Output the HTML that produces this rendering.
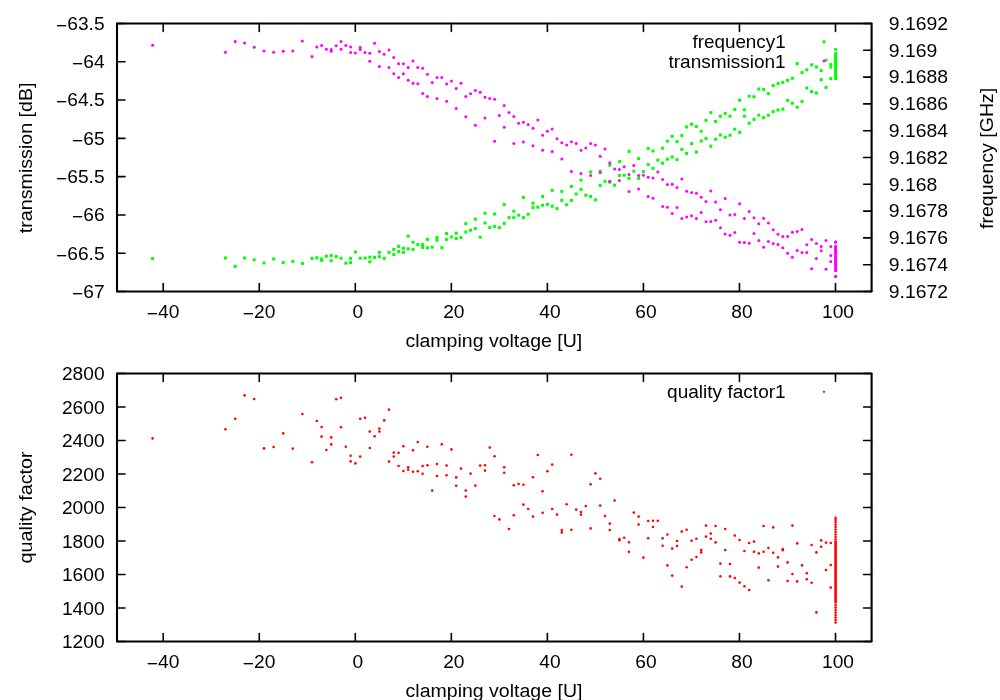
<!DOCTYPE html>
<html><head><meta charset="utf-8"><title>clamping voltage plot</title><style>
html,body{margin:0;padding:0;background:#fff;width:1000px;height:700px;overflow:hidden}
svg{display:block}
text{font-family:"Liberation Sans", Arial, Helvetica, sans-serif;font-size:19px;fill:#000}
</style></head><body>
<svg width="1000" height="700" viewBox="0 0 1000 700">
<rect width="1000" height="700" fill="#fff"/>
<line x1="163.22" y1="291.50" x2="163.22" y2="283.50" stroke="#000" stroke-width="1.6" stroke-linecap="round"/>
<line x1="163.22" y1="23.50" x2="163.22" y2="31.50" stroke="#000" stroke-width="1.6" stroke-linecap="round"/>
<line x1="259.26" y1="291.50" x2="259.26" y2="283.50" stroke="#000" stroke-width="1.6" stroke-linecap="round"/>
<line x1="259.26" y1="23.50" x2="259.26" y2="31.50" stroke="#000" stroke-width="1.6" stroke-linecap="round"/>
<line x1="355.30" y1="291.50" x2="355.30" y2="283.50" stroke="#000" stroke-width="1.6" stroke-linecap="round"/>
<line x1="355.30" y1="23.50" x2="355.30" y2="31.50" stroke="#000" stroke-width="1.6" stroke-linecap="round"/>
<line x1="451.34" y1="291.50" x2="451.34" y2="283.50" stroke="#000" stroke-width="1.6" stroke-linecap="round"/>
<line x1="451.34" y1="23.50" x2="451.34" y2="31.50" stroke="#000" stroke-width="1.6" stroke-linecap="round"/>
<line x1="547.38" y1="291.50" x2="547.38" y2="283.50" stroke="#000" stroke-width="1.6" stroke-linecap="round"/>
<line x1="547.38" y1="23.50" x2="547.38" y2="31.50" stroke="#000" stroke-width="1.6" stroke-linecap="round"/>
<line x1="643.42" y1="291.50" x2="643.42" y2="283.50" stroke="#000" stroke-width="1.6" stroke-linecap="round"/>
<line x1="643.42" y1="23.50" x2="643.42" y2="31.50" stroke="#000" stroke-width="1.6" stroke-linecap="round"/>
<line x1="739.46" y1="291.50" x2="739.46" y2="283.50" stroke="#000" stroke-width="1.6" stroke-linecap="round"/>
<line x1="739.46" y1="23.50" x2="739.46" y2="31.50" stroke="#000" stroke-width="1.6" stroke-linecap="round"/>
<line x1="835.50" y1="291.50" x2="835.50" y2="283.50" stroke="#000" stroke-width="1.6" stroke-linecap="round"/>
<line x1="835.50" y1="23.50" x2="835.50" y2="31.50" stroke="#000" stroke-width="1.6" stroke-linecap="round"/>
<line x1="163.22" y1="641.50" x2="163.22" y2="633.50" stroke="#000" stroke-width="1.6" stroke-linecap="round"/>
<line x1="163.22" y1="373.50" x2="163.22" y2="381.50" stroke="#000" stroke-width="1.6" stroke-linecap="round"/>
<line x1="259.26" y1="641.50" x2="259.26" y2="633.50" stroke="#000" stroke-width="1.6" stroke-linecap="round"/>
<line x1="259.26" y1="373.50" x2="259.26" y2="381.50" stroke="#000" stroke-width="1.6" stroke-linecap="round"/>
<line x1="355.30" y1="641.50" x2="355.30" y2="633.50" stroke="#000" stroke-width="1.6" stroke-linecap="round"/>
<line x1="355.30" y1="373.50" x2="355.30" y2="381.50" stroke="#000" stroke-width="1.6" stroke-linecap="round"/>
<line x1="451.34" y1="641.50" x2="451.34" y2="633.50" stroke="#000" stroke-width="1.6" stroke-linecap="round"/>
<line x1="451.34" y1="373.50" x2="451.34" y2="381.50" stroke="#000" stroke-width="1.6" stroke-linecap="round"/>
<line x1="547.38" y1="641.50" x2="547.38" y2="633.50" stroke="#000" stroke-width="1.6" stroke-linecap="round"/>
<line x1="547.38" y1="373.50" x2="547.38" y2="381.50" stroke="#000" stroke-width="1.6" stroke-linecap="round"/>
<line x1="643.42" y1="641.50" x2="643.42" y2="633.50" stroke="#000" stroke-width="1.6" stroke-linecap="round"/>
<line x1="643.42" y1="373.50" x2="643.42" y2="381.50" stroke="#000" stroke-width="1.6" stroke-linecap="round"/>
<line x1="739.46" y1="641.50" x2="739.46" y2="633.50" stroke="#000" stroke-width="1.6" stroke-linecap="round"/>
<line x1="739.46" y1="373.50" x2="739.46" y2="381.50" stroke="#000" stroke-width="1.6" stroke-linecap="round"/>
<line x1="835.50" y1="641.50" x2="835.50" y2="633.50" stroke="#000" stroke-width="1.6" stroke-linecap="round"/>
<line x1="835.50" y1="373.50" x2="835.50" y2="381.50" stroke="#000" stroke-width="1.6" stroke-linecap="round"/>
<line x1="117.00" y1="23.50" x2="125.00" y2="23.50" stroke="#000" stroke-width="1.6" stroke-linecap="round"/>
<text transform="translate(104.60,29.80) scale(1.01,1)" text-anchor="end"><tspan dy="2.0">−</tspan><tspan dy="-2.0">63.5</tspan></text>
<line x1="117.00" y1="61.79" x2="125.00" y2="61.79" stroke="#000" stroke-width="1.6" stroke-linecap="round"/>
<text transform="translate(104.60,68.09) scale(1.01,1)" text-anchor="end"><tspan dy="2.0">−</tspan><tspan dy="-2.0">64</tspan></text>
<line x1="117.00" y1="100.07" x2="125.00" y2="100.07" stroke="#000" stroke-width="1.6" stroke-linecap="round"/>
<text transform="translate(104.60,106.37) scale(1.01,1)" text-anchor="end"><tspan dy="2.0">−</tspan><tspan dy="-2.0">64.5</tspan></text>
<line x1="117.00" y1="138.36" x2="125.00" y2="138.36" stroke="#000" stroke-width="1.6" stroke-linecap="round"/>
<text transform="translate(104.60,144.66) scale(1.01,1)" text-anchor="end"><tspan dy="2.0">−</tspan><tspan dy="-2.0">65</tspan></text>
<line x1="117.00" y1="176.64" x2="125.00" y2="176.64" stroke="#000" stroke-width="1.6" stroke-linecap="round"/>
<text transform="translate(104.60,182.94) scale(1.01,1)" text-anchor="end"><tspan dy="2.0">−</tspan><tspan dy="-2.0">65.5</tspan></text>
<line x1="117.00" y1="214.93" x2="125.00" y2="214.93" stroke="#000" stroke-width="1.6" stroke-linecap="round"/>
<text transform="translate(104.60,221.23) scale(1.01,1)" text-anchor="end"><tspan dy="2.0">−</tspan><tspan dy="-2.0">66</tspan></text>
<line x1="117.00" y1="253.21" x2="125.00" y2="253.21" stroke="#000" stroke-width="1.6" stroke-linecap="round"/>
<text transform="translate(104.60,259.51) scale(1.01,1)" text-anchor="end"><tspan dy="2.0">−</tspan><tspan dy="-2.0">66.5</tspan></text>
<line x1="117.00" y1="291.50" x2="125.00" y2="291.50" stroke="#000" stroke-width="1.6" stroke-linecap="round"/>
<text transform="translate(104.60,297.80) scale(1.01,1)" text-anchor="end"><tspan dy="2.0">−</tspan><tspan dy="-2.0">67</tspan></text>
<line x1="871.60" y1="23.50" x2="863.60" y2="23.50" stroke="#000" stroke-width="1.6" stroke-linecap="round"/>
<text transform="translate(888.80,29.80) scale(1.02,1)">9.1692</text>
<line x1="871.60" y1="50.30" x2="863.60" y2="50.30" stroke="#000" stroke-width="1.6" stroke-linecap="round"/>
<text transform="translate(888.80,56.60) scale(1.02,1)">9.169</text>
<line x1="871.60" y1="77.10" x2="863.60" y2="77.10" stroke="#000" stroke-width="1.6" stroke-linecap="round"/>
<text transform="translate(888.80,83.40) scale(1.02,1)">9.1688</text>
<line x1="871.60" y1="103.90" x2="863.60" y2="103.90" stroke="#000" stroke-width="1.6" stroke-linecap="round"/>
<text transform="translate(888.80,110.20) scale(1.02,1)">9.1686</text>
<line x1="871.60" y1="130.70" x2="863.60" y2="130.70" stroke="#000" stroke-width="1.6" stroke-linecap="round"/>
<text transform="translate(888.80,137.00) scale(1.02,1)">9.1684</text>
<line x1="871.60" y1="157.50" x2="863.60" y2="157.50" stroke="#000" stroke-width="1.6" stroke-linecap="round"/>
<text transform="translate(888.80,163.80) scale(1.02,1)">9.1682</text>
<line x1="871.60" y1="184.30" x2="863.60" y2="184.30" stroke="#000" stroke-width="1.6" stroke-linecap="round"/>
<text transform="translate(888.80,190.60) scale(1.02,1)">9.168</text>
<line x1="871.60" y1="211.10" x2="863.60" y2="211.10" stroke="#000" stroke-width="1.6" stroke-linecap="round"/>
<text transform="translate(888.80,217.40) scale(1.02,1)">9.1678</text>
<line x1="871.60" y1="237.90" x2="863.60" y2="237.90" stroke="#000" stroke-width="1.6" stroke-linecap="round"/>
<text transform="translate(888.80,244.20) scale(1.02,1)">9.1676</text>
<line x1="871.60" y1="264.70" x2="863.60" y2="264.70" stroke="#000" stroke-width="1.6" stroke-linecap="round"/>
<text transform="translate(888.80,271.00) scale(1.02,1)">9.1674</text>
<line x1="871.60" y1="291.50" x2="863.60" y2="291.50" stroke="#000" stroke-width="1.6" stroke-linecap="round"/>
<text transform="translate(888.80,297.80) scale(1.02,1)">9.1672</text>
<line x1="117.00" y1="373.50" x2="125.00" y2="373.50" stroke="#000" stroke-width="1.6" stroke-linecap="round"/>
<line x1="871.60" y1="373.50" x2="863.60" y2="373.50" stroke="#000" stroke-width="1.6" stroke-linecap="round"/>
<text transform="translate(104.60,380.00) scale(1.01,1)" text-anchor="end">2800</text>
<line x1="117.00" y1="407.00" x2="125.00" y2="407.00" stroke="#000" stroke-width="1.6" stroke-linecap="round"/>
<line x1="871.60" y1="407.00" x2="863.60" y2="407.00" stroke="#000" stroke-width="1.6" stroke-linecap="round"/>
<text transform="translate(104.60,413.50) scale(1.01,1)" text-anchor="end">2600</text>
<line x1="117.00" y1="440.50" x2="125.00" y2="440.50" stroke="#000" stroke-width="1.6" stroke-linecap="round"/>
<line x1="871.60" y1="440.50" x2="863.60" y2="440.50" stroke="#000" stroke-width="1.6" stroke-linecap="round"/>
<text transform="translate(104.60,447.00) scale(1.01,1)" text-anchor="end">2400</text>
<line x1="117.00" y1="474.00" x2="125.00" y2="474.00" stroke="#000" stroke-width="1.6" stroke-linecap="round"/>
<line x1="871.60" y1="474.00" x2="863.60" y2="474.00" stroke="#000" stroke-width="1.6" stroke-linecap="round"/>
<text transform="translate(104.60,480.50) scale(1.01,1)" text-anchor="end">2200</text>
<line x1="117.00" y1="507.50" x2="125.00" y2="507.50" stroke="#000" stroke-width="1.6" stroke-linecap="round"/>
<line x1="871.60" y1="507.50" x2="863.60" y2="507.50" stroke="#000" stroke-width="1.6" stroke-linecap="round"/>
<text transform="translate(104.60,514.00) scale(1.01,1)" text-anchor="end">2000</text>
<line x1="117.00" y1="541.00" x2="125.00" y2="541.00" stroke="#000" stroke-width="1.6" stroke-linecap="round"/>
<line x1="871.60" y1="541.00" x2="863.60" y2="541.00" stroke="#000" stroke-width="1.6" stroke-linecap="round"/>
<text transform="translate(104.60,547.50) scale(1.01,1)" text-anchor="end">1800</text>
<line x1="117.00" y1="574.50" x2="125.00" y2="574.50" stroke="#000" stroke-width="1.6" stroke-linecap="round"/>
<line x1="871.60" y1="574.50" x2="863.60" y2="574.50" stroke="#000" stroke-width="1.6" stroke-linecap="round"/>
<text transform="translate(104.60,581.00) scale(1.01,1)" text-anchor="end">1600</text>
<line x1="117.00" y1="608.00" x2="125.00" y2="608.00" stroke="#000" stroke-width="1.6" stroke-linecap="round"/>
<line x1="871.60" y1="608.00" x2="863.60" y2="608.00" stroke="#000" stroke-width="1.6" stroke-linecap="round"/>
<text transform="translate(104.60,614.50) scale(1.01,1)" text-anchor="end">1400</text>
<line x1="117.00" y1="641.50" x2="125.00" y2="641.50" stroke="#000" stroke-width="1.6" stroke-linecap="round"/>
<line x1="871.60" y1="641.50" x2="863.60" y2="641.50" stroke="#000" stroke-width="1.6" stroke-linecap="round"/>
<text transform="translate(104.60,648.00) scale(1.01,1)" text-anchor="end">1200</text>
<text transform="translate(163.02,318.20) scale(1.01,1)" text-anchor="middle"><tspan dy="2.0">−</tspan><tspan dy="-2.0">40</tspan></text>
<text transform="translate(259.06,318.20) scale(1.01,1)" text-anchor="middle"><tspan dy="2.0">−</tspan><tspan dy="-2.0">20</tspan></text>
<text transform="translate(357.80,318.20) scale(1.01,1)" text-anchor="middle">0</text>
<text transform="translate(453.84,318.20) scale(1.01,1)" text-anchor="middle">20</text>
<text transform="translate(549.88,318.20) scale(1.01,1)" text-anchor="middle">40</text>
<text transform="translate(645.92,318.20) scale(1.01,1)" text-anchor="middle">60</text>
<text transform="translate(741.96,318.20) scale(1.01,1)" text-anchor="middle">80</text>
<text transform="translate(838.00,318.20) scale(1.01,1)" text-anchor="middle">100</text>
<text transform="translate(163.02,668.20) scale(1.01,1)" text-anchor="middle"><tspan dy="2.0">−</tspan><tspan dy="-2.0">40</tspan></text>
<text transform="translate(259.06,668.20) scale(1.01,1)" text-anchor="middle"><tspan dy="2.0">−</tspan><tspan dy="-2.0">20</tspan></text>
<text transform="translate(357.80,668.20) scale(1.01,1)" text-anchor="middle">0</text>
<text transform="translate(453.84,668.20) scale(1.01,1)" text-anchor="middle">20</text>
<text transform="translate(549.88,668.20) scale(1.01,1)" text-anchor="middle">40</text>
<text transform="translate(645.92,668.20) scale(1.01,1)" text-anchor="middle">60</text>
<text transform="translate(741.96,668.20) scale(1.01,1)" text-anchor="middle">80</text>
<text transform="translate(838.00,668.20) scale(1.01,1)" text-anchor="middle">100</text>
<rect x="117" y="23.5" width="754.6" height="268.0" fill="none" stroke="#000" stroke-width="2.1" stroke-linejoin="round"/>
<rect x="117" y="373.5" width="754.6" height="268.0" fill="none" stroke="#000" stroke-width="2.1" stroke-linejoin="round"/>
<text transform="translate(493.80,346.70) scale(1.028,1)" text-anchor="middle">clamping voltage [U]</text>
<text transform="translate(494.00,696.50) scale(1.028,1)" text-anchor="middle">clamping voltage [U]</text>
<text transform="translate(31.70,157.80) rotate(-90) scale(1.035,1)" text-anchor="middle">transmission [dB]</text>
<text transform="translate(31.70,507.40) rotate(-90) scale(1.04,1)" text-anchor="middle">quality factor</text>
<text transform="translate(993.00,158.40) rotate(-90) scale(1.03,1)" text-anchor="middle">frequency [GHz]</text>
<text transform="translate(785.70,47.60) scale(0.993,1)" text-anchor="end">frequency1</text>
<text transform="translate(785.70,67.60)" text-anchor="end">transmission1</text>
<text transform="translate(785.70,397.90) scale(1.004,1)" text-anchor="end">quality factor1</text>
<rect x="618.1" y="160.1" width="3" height="3" fill="#00ff00"/>
<rect x="627.5" y="149.9" width="3" height="3" fill="#00ff00"/>
<rect x="637.1" y="157.1" width="3" height="3" fill="#00ff00"/>
<rect x="646.7" y="147.1" width="3" height="3" fill="#00ff00"/>
<rect x="651.5" y="149.5" width="3" height="3" fill="#00ff00"/>
<rect x="656.3" y="158.7" width="3" height="3" fill="#00ff00"/>
<rect x="661.1" y="146.7" width="3" height="3" fill="#00ff00"/>
<rect x="665.9" y="139.7" width="3" height="3" fill="#00ff00"/>
<rect x="665.9" y="157.7" width="3" height="3" fill="#00ff00"/>
<rect x="670.7" y="134.9" width="3" height="3" fill="#00ff00"/>
<rect x="670.7" y="155.5" width="3" height="3" fill="#00ff00"/>
<rect x="675.5" y="140.1" width="3" height="3" fill="#00ff00"/>
<rect x="675.5" y="158.1" width="3" height="3" fill="#00ff00"/>
<rect x="680.3" y="134.1" width="3" height="3" fill="#00ff00"/>
<rect x="680.3" y="147.9" width="3" height="3" fill="#00ff00"/>
<rect x="685.1" y="125.5" width="3" height="3" fill="#00ff00"/>
<rect x="685.1" y="151.9" width="3" height="3" fill="#00ff00"/>
<rect x="690.1" y="122.7" width="3" height="3" fill="#00ff00"/>
<rect x="690.1" y="142.1" width="3" height="3" fill="#00ff00"/>
<rect x="694.9" y="125.1" width="3" height="3" fill="#00ff00"/>
<rect x="694.9" y="150.5" width="3" height="3" fill="#00ff00"/>
<rect x="699.7" y="129.7" width="3" height="3" fill="#00ff00"/>
<rect x="699.7" y="139.5" width="3" height="3" fill="#00ff00"/>
<rect x="704.5" y="118.9" width="3" height="3" fill="#00ff00"/>
<rect x="704.5" y="136.9" width="3" height="3" fill="#00ff00"/>
<rect x="709.3" y="111.1" width="3" height="3" fill="#00ff00"/>
<rect x="709.3" y="144.7" width="3" height="3" fill="#00ff00"/>
<rect x="714.1" y="119.9" width="3" height="3" fill="#00ff00"/>
<rect x="714.1" y="137.7" width="3" height="3" fill="#00ff00"/>
<rect x="718.9" y="114.7" width="3" height="3" fill="#00ff00"/>
<rect x="718.9" y="133.5" width="3" height="3" fill="#00ff00"/>
<rect x="723.7" y="111.9" width="3" height="3" fill="#00ff00"/>
<rect x="723.7" y="135.7" width="3" height="3" fill="#00ff00"/>
<rect x="728.5" y="114.7" width="3" height="3" fill="#00ff00"/>
<rect x="728.5" y="133.7" width="3" height="3" fill="#00ff00"/>
<rect x="733.3" y="107.9" width="3" height="3" fill="#00ff00"/>
<rect x="733.3" y="127.7" width="3" height="3" fill="#00ff00"/>
<rect x="738.1" y="98.7" width="3" height="3" fill="#00ff00"/>
<rect x="738.1" y="130.9" width="3" height="3" fill="#00ff00"/>
<rect x="742.9" y="108.3" width="3" height="3" fill="#00ff00"/>
<rect x="742.9" y="114.7" width="3" height="3" fill="#00ff00"/>
<rect x="747.7" y="94.7" width="3" height="3" fill="#00ff00"/>
<rect x="747.7" y="121.7" width="3" height="3" fill="#00ff00"/>
<rect x="752.5" y="95.3" width="3" height="3" fill="#00ff00"/>
<rect x="752.5" y="117.9" width="3" height="3" fill="#00ff00"/>
<rect x="757.3" y="87.5" width="3" height="3" fill="#00ff00"/>
<rect x="757.3" y="113.7" width="3" height="3" fill="#00ff00"/>
<rect x="762.1" y="87.9" width="3" height="3" fill="#00ff00"/>
<rect x="762.1" y="116.1" width="3" height="3" fill="#00ff00"/>
<rect x="766.9" y="92.1" width="3" height="3" fill="#00ff00"/>
<rect x="766.9" y="113.7" width="3" height="3" fill="#00ff00"/>
<rect x="771.7" y="84.1" width="3" height="3" fill="#00ff00"/>
<rect x="771.7" y="110.1" width="3" height="3" fill="#00ff00"/>
<rect x="776.5" y="81.9" width="3" height="3" fill="#00ff00"/>
<rect x="776.5" y="108.5" width="3" height="3" fill="#00ff00"/>
<rect x="781.3" y="80.9" width="3" height="3" fill="#00ff00"/>
<rect x="781.3" y="107.7" width="3" height="3" fill="#00ff00"/>
<rect x="786.1" y="78.9" width="3" height="3" fill="#00ff00"/>
<rect x="786.1" y="98.9" width="3" height="3" fill="#00ff00"/>
<rect x="790.9" y="76.7" width="3" height="3" fill="#00ff00"/>
<rect x="790.9" y="101.7" width="3" height="3" fill="#00ff00"/>
<rect x="795.7" y="62.1" width="3" height="3" fill="#00ff00"/>
<rect x="795.7" y="105.7" width="3" height="3" fill="#00ff00"/>
<rect x="800.5" y="71.1" width="3" height="3" fill="#00ff00"/>
<rect x="800.5" y="99.9" width="3" height="3" fill="#00ff00"/>
<rect x="805.3" y="68.3" width="3" height="3" fill="#00ff00"/>
<rect x="805.3" y="86.5" width="3" height="3" fill="#00ff00"/>
<rect x="810.1" y="63.3" width="3" height="3" fill="#00ff00"/>
<rect x="810.1" y="90.1" width="3" height="3" fill="#00ff00"/>
<rect x="814.9" y="65.5" width="3" height="3" fill="#00ff00"/>
<rect x="814.9" y="91.5" width="3" height="3" fill="#00ff00"/>
<rect x="819.7" y="69.1" width="3" height="3" fill="#00ff00"/>
<rect x="819.7" y="78.1" width="3" height="3" fill="#00ff00"/>
<rect x="824.5" y="58.7" width="3" height="3" fill="#00ff00"/>
<rect x="824.5" y="85.9" width="3" height="3" fill="#00ff00"/>
<rect x="829.3" y="63.1" width="3" height="3" fill="#00ff00"/>
<rect x="829.3" y="65.5" width="3" height="3" fill="#00ff00"/>
<rect x="829.3" y="77.1" width="3" height="3" fill="#00ff00"/>
<rect x="151.1" y="257.1" width="3" height="3" fill="#00ff00"/>
<rect x="223.9" y="256.5" width="3" height="3" fill="#00ff00"/>
<rect x="233.7" y="264.9" width="3" height="3" fill="#00ff00"/>
<rect x="243.1" y="256.5" width="3" height="3" fill="#00ff00"/>
<rect x="252.7" y="258.3" width="3" height="3" fill="#00ff00"/>
<rect x="262.5" y="261.5" width="3" height="3" fill="#00ff00"/>
<rect x="272.1" y="257.5" width="3" height="3" fill="#00ff00"/>
<rect x="281.7" y="261.1" width="3" height="3" fill="#00ff00"/>
<rect x="291.3" y="259.9" width="3" height="3" fill="#00ff00"/>
<rect x="300.9" y="261.9" width="3" height="3" fill="#00ff00"/>
<rect x="310.5" y="256.9" width="3" height="3" fill="#00ff00"/>
<rect x="315.3" y="256.3" width="3" height="3" fill="#00ff00"/>
<rect x="320.1" y="257.5" width="3" height="3" fill="#00ff00"/>
<rect x="320.1" y="258.9" width="3" height="3" fill="#00ff00"/>
<rect x="324.9" y="254.7" width="3" height="3" fill="#00ff00"/>
<rect x="329.7" y="253.9" width="3" height="3" fill="#00ff00"/>
<rect x="329.7" y="259.3" width="3" height="3" fill="#00ff00"/>
<rect x="334.7" y="255.1" width="3" height="3" fill="#00ff00"/>
<rect x="339.5" y="256.7" width="3" height="3" fill="#00ff00"/>
<rect x="344.3" y="261.7" width="3" height="3" fill="#00ff00"/>
<rect x="349.1" y="256.9" width="3" height="3" fill="#00ff00"/>
<rect x="349.1" y="261.1" width="3" height="3" fill="#00ff00"/>
<rect x="353.9" y="250.5" width="3" height="3" fill="#00ff00"/>
<rect x="358.7" y="256.7" width="3" height="3" fill="#00ff00"/>
<rect x="363.5" y="256.5" width="3" height="3" fill="#00ff00"/>
<rect x="368.3" y="255.7" width="3" height="3" fill="#00ff00"/>
<rect x="368.3" y="260.3" width="3" height="3" fill="#00ff00"/>
<rect x="373.1" y="255.9" width="3" height="3" fill="#00ff00"/>
<rect x="377.9" y="250.9" width="3" height="3" fill="#00ff00"/>
<rect x="377.9" y="255.1" width="3" height="3" fill="#00ff00"/>
<rect x="382.7" y="256.9" width="3" height="3" fill="#00ff00"/>
<rect x="387.5" y="250.9" width="3" height="3" fill="#00ff00"/>
<rect x="392.3" y="247.9" width="3" height="3" fill="#00ff00"/>
<rect x="392.3" y="253.1" width="3" height="3" fill="#00ff00"/>
<rect x="397.1" y="244.9" width="3" height="3" fill="#00ff00"/>
<rect x="397.1" y="250.1" width="3" height="3" fill="#00ff00"/>
<rect x="401.9" y="246.7" width="3" height="3" fill="#00ff00"/>
<rect x="401.9" y="250.9" width="3" height="3" fill="#00ff00"/>
<rect x="406.7" y="234.7" width="3" height="3" fill="#00ff00"/>
<rect x="406.7" y="247.3" width="3" height="3" fill="#00ff00"/>
<rect x="411.5" y="240.7" width="3" height="3" fill="#00ff00"/>
<rect x="411.5" y="247.9" width="3" height="3" fill="#00ff00"/>
<rect x="416.3" y="243.1" width="3" height="3" fill="#00ff00"/>
<rect x="421.1" y="243.1" width="3" height="3" fill="#00ff00"/>
<rect x="421.1" y="245.9" width="3" height="3" fill="#00ff00"/>
<rect x="425.9" y="237.9" width="3" height="3" fill="#00ff00"/>
<rect x="425.9" y="246.3" width="3" height="3" fill="#00ff00"/>
<rect x="430.7" y="245.7" width="3" height="3" fill="#00ff00"/>
<rect x="435.5" y="235.9" width="3" height="3" fill="#00ff00"/>
<rect x="435.5" y="238.7" width="3" height="3" fill="#00ff00"/>
<rect x="440.3" y="246.3" width="3" height="3" fill="#00ff00"/>
<rect x="445.1" y="232.1" width="3" height="3" fill="#00ff00"/>
<rect x="445.1" y="237.9" width="3" height="3" fill="#00ff00"/>
<rect x="449.9" y="235.5" width="3" height="3" fill="#00ff00"/>
<rect x="454.7" y="231.7" width="3" height="3" fill="#00ff00"/>
<rect x="454.7" y="237.1" width="3" height="3" fill="#00ff00"/>
<rect x="459.5" y="236.1" width="3" height="3" fill="#00ff00"/>
<rect x="464.3" y="222.1" width="3" height="3" fill="#00ff00"/>
<rect x="464.3" y="230.5" width="3" height="3" fill="#00ff00"/>
<rect x="469.1" y="228.7" width="3" height="3" fill="#00ff00"/>
<rect x="473.9" y="217.7" width="3" height="3" fill="#00ff00"/>
<rect x="473.9" y="227.1" width="3" height="3" fill="#00ff00"/>
<rect x="478.7" y="235.7" width="3" height="3" fill="#00ff00"/>
<rect x="483.5" y="211.7" width="3" height="3" fill="#00ff00"/>
<rect x="483.5" y="221.5" width="3" height="3" fill="#00ff00"/>
<rect x="488.3" y="226.1" width="3" height="3" fill="#00ff00"/>
<rect x="493.1" y="212.5" width="3" height="3" fill="#00ff00"/>
<rect x="493.1" y="224.9" width="3" height="3" fill="#00ff00"/>
<rect x="497.9" y="226.1" width="3" height="3" fill="#00ff00"/>
<rect x="502.7" y="203.1" width="3" height="3" fill="#00ff00"/>
<rect x="502.7" y="221.9" width="3" height="3" fill="#00ff00"/>
<rect x="507.5" y="216.1" width="3" height="3" fill="#00ff00"/>
<rect x="512.3" y="209.7" width="3" height="3" fill="#00ff00"/>
<rect x="512.3" y="216.1" width="3" height="3" fill="#00ff00"/>
<rect x="517.1" y="213.7" width="3" height="3" fill="#00ff00"/>
<rect x="521.9" y="195.9" width="3" height="3" fill="#00ff00"/>
<rect x="521.9" y="216.1" width="3" height="3" fill="#00ff00"/>
<rect x="526.7" y="212.7" width="3" height="3" fill="#00ff00"/>
<rect x="531.5" y="201.7" width="3" height="3" fill="#00ff00"/>
<rect x="531.5" y="206.1" width="3" height="3" fill="#00ff00"/>
<rect x="536.3" y="205.7" width="3" height="3" fill="#00ff00"/>
<rect x="541.1" y="195.1" width="3" height="3" fill="#00ff00"/>
<rect x="541.1" y="203.7" width="3" height="3" fill="#00ff00"/>
<rect x="545.9" y="202.9" width="3" height="3" fill="#00ff00"/>
<rect x="550.7" y="188.9" width="3" height="3" fill="#00ff00"/>
<rect x="550.7" y="204.7" width="3" height="3" fill="#00ff00"/>
<rect x="555.5" y="207.1" width="3" height="3" fill="#00ff00"/>
<rect x="560.3" y="189.9" width="3" height="3" fill="#00ff00"/>
<rect x="560.3" y="198.9" width="3" height="3" fill="#00ff00"/>
<rect x="565.1" y="203.3" width="3" height="3" fill="#00ff00"/>
<rect x="569.9" y="184.9" width="3" height="3" fill="#00ff00"/>
<rect x="569.9" y="198.9" width="3" height="3" fill="#00ff00"/>
<rect x="574.7" y="192.5" width="3" height="3" fill="#00ff00"/>
<rect x="579.5" y="178.7" width="3" height="3" fill="#00ff00"/>
<rect x="579.5" y="187.9" width="3" height="3" fill="#00ff00"/>
<rect x="584.3" y="193.7" width="3" height="3" fill="#00ff00"/>
<rect x="589.1" y="170.5" width="3" height="3" fill="#00ff00"/>
<rect x="589.1" y="194.9" width="3" height="3" fill="#00ff00"/>
<rect x="593.9" y="198.3" width="3" height="3" fill="#00ff00"/>
<rect x="598.7" y="169.7" width="3" height="3" fill="#00ff00"/>
<rect x="598.7" y="183.9" width="3" height="3" fill="#00ff00"/>
<rect x="603.5" y="179.9" width="3" height="3" fill="#00ff00"/>
<rect x="608.3" y="163.7" width="3" height="3" fill="#00ff00"/>
<rect x="608.3" y="180.7" width="3" height="3" fill="#00ff00"/>
<rect x="613.1" y="183.7" width="3" height="3" fill="#00ff00"/>
<rect x="617.9" y="173.9" width="3" height="3" fill="#00ff00"/>
<rect x="622.7" y="173.7" width="3" height="3" fill="#00ff00"/>
<rect x="627.5" y="176.9" width="3" height="3" fill="#00ff00"/>
<rect x="632.3" y="169.7" width="3" height="3" fill="#00ff00"/>
<rect x="637.1" y="176.9" width="3" height="3" fill="#00ff00"/>
<rect x="641.9" y="170.1" width="3" height="3" fill="#00ff00"/>
<rect x="646.7" y="163.1" width="3" height="3" fill="#00ff00"/>
<rect x="651.5" y="166.9" width="3" height="3" fill="#00ff00"/>
<rect x="661.1" y="161.7" width="3" height="3" fill="#00ff00"/>
<circle cx="152.6" cy="45.2" r="1.5" fill="#ff00ff"/>
<circle cx="225.4" cy="52.2" r="1.5" fill="#ff00ff"/>
<circle cx="235.2" cy="41.6" r="1.5" fill="#ff00ff"/>
<circle cx="244.6" cy="43.0" r="1.5" fill="#ff00ff"/>
<circle cx="254.2" cy="47.2" r="1.5" fill="#ff00ff"/>
<circle cx="264.0" cy="51.0" r="1.5" fill="#ff00ff"/>
<circle cx="273.6" cy="52.2" r="1.5" fill="#ff00ff"/>
<circle cx="283.2" cy="51.2" r="1.5" fill="#ff00ff"/>
<circle cx="292.8" cy="51.0" r="1.5" fill="#ff00ff"/>
<circle cx="302.4" cy="41.0" r="1.5" fill="#ff00ff"/>
<circle cx="312.0" cy="56.4" r="1.5" fill="#ff00ff"/>
<circle cx="316.8" cy="47.0" r="1.5" fill="#ff00ff"/>
<circle cx="321.6" cy="45.4" r="1.5" fill="#ff00ff"/>
<circle cx="326.4" cy="49.2" r="1.5" fill="#ff00ff"/>
<circle cx="331.2" cy="49.4" r="1.5" fill="#ff00ff"/>
<circle cx="331.2" cy="51.2" r="1.5" fill="#ff00ff"/>
<circle cx="336.2" cy="45.8" r="1.5" fill="#ff00ff"/>
<circle cx="341.0" cy="41.4" r="1.5" fill="#ff00ff"/>
<circle cx="341.0" cy="49.2" r="1.5" fill="#ff00ff"/>
<circle cx="345.8" cy="45.6" r="1.5" fill="#ff00ff"/>
<circle cx="350.6" cy="47.0" r="1.5" fill="#ff00ff"/>
<circle cx="350.6" cy="52.6" r="1.5" fill="#ff00ff"/>
<circle cx="355.4" cy="53.0" r="1.5" fill="#ff00ff"/>
<circle cx="360.2" cy="47.4" r="1.5" fill="#ff00ff"/>
<circle cx="360.2" cy="49.4" r="1.5" fill="#ff00ff"/>
<circle cx="365.0" cy="52.4" r="1.5" fill="#ff00ff"/>
<circle cx="369.8" cy="53.2" r="1.5" fill="#ff00ff"/>
<circle cx="369.8" cy="61.2" r="1.5" fill="#ff00ff"/>
<circle cx="374.6" cy="43.2" r="1.5" fill="#ff00ff"/>
<circle cx="379.4" cy="51.4" r="1.5" fill="#ff00ff"/>
<circle cx="379.4" cy="66.6" r="1.5" fill="#ff00ff"/>
<circle cx="384.2" cy="54.2" r="1.5" fill="#ff00ff"/>
<circle cx="389.0" cy="50.0" r="1.5" fill="#ff00ff"/>
<circle cx="389.0" cy="67.4" r="1.5" fill="#ff00ff"/>
<circle cx="393.8" cy="57.4" r="1.5" fill="#ff00ff"/>
<circle cx="393.8" cy="73.8" r="1.5" fill="#ff00ff"/>
<circle cx="398.6" cy="63.8" r="1.5" fill="#ff00ff"/>
<circle cx="398.6" cy="77.4" r="1.5" fill="#ff00ff"/>
<circle cx="403.4" cy="63.8" r="1.5" fill="#ff00ff"/>
<circle cx="403.4" cy="73.8" r="1.5" fill="#ff00ff"/>
<circle cx="408.2" cy="67.4" r="1.5" fill="#ff00ff"/>
<circle cx="408.2" cy="80.2" r="1.5" fill="#ff00ff"/>
<circle cx="413.0" cy="61.0" r="1.5" fill="#ff00ff"/>
<circle cx="413.0" cy="83.2" r="1.5" fill="#ff00ff"/>
<circle cx="417.8" cy="67.4" r="1.5" fill="#ff00ff"/>
<circle cx="417.8" cy="83.8" r="1.5" fill="#ff00ff"/>
<circle cx="422.6" cy="68.2" r="1.5" fill="#ff00ff"/>
<circle cx="422.6" cy="93.4" r="1.5" fill="#ff00ff"/>
<circle cx="427.4" cy="74.2" r="1.5" fill="#ff00ff"/>
<circle cx="427.4" cy="96.6" r="1.5" fill="#ff00ff"/>
<circle cx="432.2" cy="82.4" r="1.5" fill="#ff00ff"/>
<circle cx="437.0" cy="77.4" r="1.5" fill="#ff00ff"/>
<circle cx="437.0" cy="98.6" r="1.5" fill="#ff00ff"/>
<circle cx="441.8" cy="77.6" r="1.5" fill="#ff00ff"/>
<circle cx="446.6" cy="84.0" r="1.5" fill="#ff00ff"/>
<circle cx="446.6" cy="101.2" r="1.5" fill="#ff00ff"/>
<circle cx="451.4" cy="81.0" r="1.5" fill="#ff00ff"/>
<circle cx="456.2" cy="88.4" r="1.5" fill="#ff00ff"/>
<circle cx="456.2" cy="108.4" r="1.5" fill="#ff00ff"/>
<circle cx="461.0" cy="83.2" r="1.5" fill="#ff00ff"/>
<circle cx="465.8" cy="96.6" r="1.5" fill="#ff00ff"/>
<circle cx="465.8" cy="116.8" r="1.5" fill="#ff00ff"/>
<circle cx="470.6" cy="93.8" r="1.5" fill="#ff00ff"/>
<circle cx="475.4" cy="90.6" r="1.5" fill="#ff00ff"/>
<circle cx="475.4" cy="125.2" r="1.5" fill="#ff00ff"/>
<circle cx="480.2" cy="92.2" r="1.5" fill="#ff00ff"/>
<circle cx="485.0" cy="97.2" r="1.5" fill="#ff00ff"/>
<circle cx="485.0" cy="118.0" r="1.5" fill="#ff00ff"/>
<circle cx="489.8" cy="98.4" r="1.5" fill="#ff00ff"/>
<circle cx="494.6" cy="99.2" r="1.5" fill="#ff00ff"/>
<circle cx="494.6" cy="141.2" r="1.5" fill="#ff00ff"/>
<circle cx="499.4" cy="115.6" r="1.5" fill="#ff00ff"/>
<circle cx="504.2" cy="105.6" r="1.5" fill="#ff00ff"/>
<circle cx="504.2" cy="127.2" r="1.5" fill="#ff00ff"/>
<circle cx="509.0" cy="112.6" r="1.5" fill="#ff00ff"/>
<circle cx="513.8" cy="116.4" r="1.5" fill="#ff00ff"/>
<circle cx="513.8" cy="143.6" r="1.5" fill="#ff00ff"/>
<circle cx="518.6" cy="123.2" r="1.5" fill="#ff00ff"/>
<circle cx="523.4" cy="122.2" r="1.5" fill="#ff00ff"/>
<circle cx="523.4" cy="142.0" r="1.5" fill="#ff00ff"/>
<circle cx="528.2" cy="124.6" r="1.5" fill="#ff00ff"/>
<circle cx="533.0" cy="128.2" r="1.5" fill="#ff00ff"/>
<circle cx="533.0" cy="145.8" r="1.5" fill="#ff00ff"/>
<circle cx="537.8" cy="120.0" r="1.5" fill="#ff00ff"/>
<circle cx="542.6" cy="135.2" r="1.5" fill="#ff00ff"/>
<circle cx="542.6" cy="150.2" r="1.5" fill="#ff00ff"/>
<circle cx="547.4" cy="131.2" r="1.5" fill="#ff00ff"/>
<circle cx="552.2" cy="129.0" r="1.5" fill="#ff00ff"/>
<circle cx="552.2" cy="151.6" r="1.5" fill="#ff00ff"/>
<circle cx="557.0" cy="138.8" r="1.5" fill="#ff00ff"/>
<circle cx="561.8" cy="142.8" r="1.5" fill="#ff00ff"/>
<circle cx="561.8" cy="159.0" r="1.5" fill="#ff00ff"/>
<circle cx="566.6" cy="145.0" r="1.5" fill="#ff00ff"/>
<circle cx="571.4" cy="141.8" r="1.5" fill="#ff00ff"/>
<circle cx="576.2" cy="143.6" r="1.5" fill="#ff00ff"/>
<circle cx="581.0" cy="150.2" r="1.5" fill="#ff00ff"/>
<circle cx="585.8" cy="148.0" r="1.5" fill="#ff00ff"/>
<circle cx="590.6" cy="143.4" r="1.5" fill="#ff00ff"/>
<circle cx="595.4" cy="145.0" r="1.5" fill="#ff00ff"/>
<circle cx="600.2" cy="156.2" r="1.5" fill="#ff00ff"/>
<circle cx="605.0" cy="149.0" r="1.5" fill="#ff00ff"/>
<circle cx="609.8" cy="162.8" r="1.5" fill="#ff00ff"/>
<circle cx="571.4" cy="171.6" r="1.5" fill="#ff00ff"/>
<circle cx="581.0" cy="173.4" r="1.5" fill="#ff00ff"/>
<circle cx="590.6" cy="175.6" r="1.5" fill="#ff00ff"/>
<circle cx="600.2" cy="172.6" r="1.5" fill="#ff00ff"/>
<circle cx="609.8" cy="181.2" r="1.5" fill="#ff00ff"/>
<circle cx="614.6" cy="169.0" r="1.5" fill="#ff00ff"/>
<circle cx="619.4" cy="169.4" r="1.5" fill="#ff00ff"/>
<circle cx="619.4" cy="180.4" r="1.5" fill="#ff00ff"/>
<circle cx="624.2" cy="166.8" r="1.5" fill="#ff00ff"/>
<circle cx="629.0" cy="174.4" r="1.5" fill="#ff00ff"/>
<circle cx="629.0" cy="191.4" r="1.5" fill="#ff00ff"/>
<circle cx="633.8" cy="165.6" r="1.5" fill="#ff00ff"/>
<circle cx="638.6" cy="175.4" r="1.5" fill="#ff00ff"/>
<circle cx="638.6" cy="189.0" r="1.5" fill="#ff00ff"/>
<circle cx="643.4" cy="175.2" r="1.5" fill="#ff00ff"/>
<circle cx="648.2" cy="177.2" r="1.5" fill="#ff00ff"/>
<circle cx="648.2" cy="196.4" r="1.5" fill="#ff00ff"/>
<circle cx="653.0" cy="178.0" r="1.5" fill="#ff00ff"/>
<circle cx="653.0" cy="198.2" r="1.5" fill="#ff00ff"/>
<circle cx="657.8" cy="172.0" r="1.5" fill="#ff00ff"/>
<circle cx="662.6" cy="179.6" r="1.5" fill="#ff00ff"/>
<circle cx="662.6" cy="206.4" r="1.5" fill="#ff00ff"/>
<circle cx="667.4" cy="184.6" r="1.5" fill="#ff00ff"/>
<circle cx="667.4" cy="207.2" r="1.5" fill="#ff00ff"/>
<circle cx="672.2" cy="184.2" r="1.5" fill="#ff00ff"/>
<circle cx="672.2" cy="213.6" r="1.5" fill="#ff00ff"/>
<circle cx="677.0" cy="187.6" r="1.5" fill="#ff00ff"/>
<circle cx="677.0" cy="207.4" r="1.5" fill="#ff00ff"/>
<circle cx="681.8" cy="179.0" r="1.5" fill="#ff00ff"/>
<circle cx="681.8" cy="218.6" r="1.5" fill="#ff00ff"/>
<circle cx="686.6" cy="191.2" r="1.5" fill="#ff00ff"/>
<circle cx="686.6" cy="217.0" r="1.5" fill="#ff00ff"/>
<circle cx="691.6" cy="192.4" r="1.5" fill="#ff00ff"/>
<circle cx="691.6" cy="215.8" r="1.5" fill="#ff00ff"/>
<circle cx="696.4" cy="193.2" r="1.5" fill="#ff00ff"/>
<circle cx="696.4" cy="218.6" r="1.5" fill="#ff00ff"/>
<circle cx="701.2" cy="197.2" r="1.5" fill="#ff00ff"/>
<circle cx="701.2" cy="212.4" r="1.5" fill="#ff00ff"/>
<circle cx="706.0" cy="201.6" r="1.5" fill="#ff00ff"/>
<circle cx="706.0" cy="221.8" r="1.5" fill="#ff00ff"/>
<circle cx="710.8" cy="191.0" r="1.5" fill="#ff00ff"/>
<circle cx="710.8" cy="221.6" r="1.5" fill="#ff00ff"/>
<circle cx="715.6" cy="202.0" r="1.5" fill="#ff00ff"/>
<circle cx="715.6" cy="220.2" r="1.5" fill="#ff00ff"/>
<circle cx="720.4" cy="209.8" r="1.5" fill="#ff00ff"/>
<circle cx="720.4" cy="227.8" r="1.5" fill="#ff00ff"/>
<circle cx="725.2" cy="198.4" r="1.5" fill="#ff00ff"/>
<circle cx="725.2" cy="234.0" r="1.5" fill="#ff00ff"/>
<circle cx="730.0" cy="215.0" r="1.5" fill="#ff00ff"/>
<circle cx="730.0" cy="235.2" r="1.5" fill="#ff00ff"/>
<circle cx="734.8" cy="214.4" r="1.5" fill="#ff00ff"/>
<circle cx="734.8" cy="232.6" r="1.5" fill="#ff00ff"/>
<circle cx="739.6" cy="203.8" r="1.5" fill="#ff00ff"/>
<circle cx="739.6" cy="242.2" r="1.5" fill="#ff00ff"/>
<circle cx="744.4" cy="218.4" r="1.5" fill="#ff00ff"/>
<circle cx="744.4" cy="242.4" r="1.5" fill="#ff00ff"/>
<circle cx="749.2" cy="211.4" r="1.5" fill="#ff00ff"/>
<circle cx="749.2" cy="243.2" r="1.5" fill="#ff00ff"/>
<circle cx="754.0" cy="217.8" r="1.5" fill="#ff00ff"/>
<circle cx="754.0" cy="233.6" r="1.5" fill="#ff00ff"/>
<circle cx="758.8" cy="223.8" r="1.5" fill="#ff00ff"/>
<circle cx="758.8" cy="240.6" r="1.5" fill="#ff00ff"/>
<circle cx="763.6" cy="218.2" r="1.5" fill="#ff00ff"/>
<circle cx="763.6" cy="247.2" r="1.5" fill="#ff00ff"/>
<circle cx="768.4" cy="223.0" r="1.5" fill="#ff00ff"/>
<circle cx="768.4" cy="241.4" r="1.5" fill="#ff00ff"/>
<circle cx="773.2" cy="229.8" r="1.5" fill="#ff00ff"/>
<circle cx="773.2" cy="243.4" r="1.5" fill="#ff00ff"/>
<circle cx="778.0" cy="234.2" r="1.5" fill="#ff00ff"/>
<circle cx="778.0" cy="244.6" r="1.5" fill="#ff00ff"/>
<circle cx="782.8" cy="236.6" r="1.5" fill="#ff00ff"/>
<circle cx="782.8" cy="247.8" r="1.5" fill="#ff00ff"/>
<circle cx="787.6" cy="236.4" r="1.5" fill="#ff00ff"/>
<circle cx="787.6" cy="253.2" r="1.5" fill="#ff00ff"/>
<circle cx="792.4" cy="232.2" r="1.5" fill="#ff00ff"/>
<circle cx="792.4" cy="257.2" r="1.5" fill="#ff00ff"/>
<circle cx="797.2" cy="231.6" r="1.5" fill="#ff00ff"/>
<circle cx="797.2" cy="250.6" r="1.5" fill="#ff00ff"/>
<circle cx="802.0" cy="229.4" r="1.5" fill="#ff00ff"/>
<circle cx="802.0" cy="252.4" r="1.5" fill="#ff00ff"/>
<circle cx="806.8" cy="244.8" r="1.5" fill="#ff00ff"/>
<circle cx="806.8" cy="252.4" r="1.5" fill="#ff00ff"/>
<circle cx="811.6" cy="239.4" r="1.5" fill="#ff00ff"/>
<circle cx="811.6" cy="268.8" r="1.5" fill="#ff00ff"/>
<circle cx="816.4" cy="243.4" r="1.5" fill="#ff00ff"/>
<circle cx="816.4" cy="258.6" r="1.5" fill="#ff00ff"/>
<circle cx="821.2" cy="246.6" r="1.5" fill="#ff00ff"/>
<circle cx="821.2" cy="250.8" r="1.5" fill="#ff00ff"/>
<circle cx="826.0" cy="240.4" r="1.5" fill="#ff00ff"/>
<circle cx="826.0" cy="269.2" r="1.5" fill="#ff00ff"/>
<circle cx="830.8" cy="246.6" r="1.5" fill="#ff00ff"/>
<circle cx="830.8" cy="255.6" r="1.5" fill="#ff00ff"/>
<circle cx="830.8" cy="261.6" r="1.5" fill="#ff00ff"/>
<circle cx="835.6" cy="242.0" r="1.5" fill="#ff00ff"/>
<circle cx="835.6" cy="276.6" r="1.5" fill="#ff00ff"/>
<circle cx="152.6" cy="438.4" r="1.3" fill="#ff0000"/>
<circle cx="225.4" cy="429.2" r="1.3" fill="#ff0000"/>
<circle cx="235.2" cy="418.8" r="1.3" fill="#ff0000"/>
<circle cx="244.6" cy="395.4" r="1.3" fill="#ff0000"/>
<circle cx="254.2" cy="399.0" r="1.3" fill="#ff0000"/>
<circle cx="264.0" cy="448.4" r="1.3" fill="#ff0000"/>
<circle cx="273.6" cy="447.0" r="1.3" fill="#ff0000"/>
<circle cx="283.2" cy="433.4" r="1.3" fill="#ff0000"/>
<circle cx="292.8" cy="448.6" r="1.3" fill="#ff0000"/>
<circle cx="302.4" cy="414.0" r="1.3" fill="#ff0000"/>
<circle cx="312.0" cy="462.2" r="1.3" fill="#ff0000"/>
<circle cx="316.8" cy="421.0" r="1.3" fill="#ff0000"/>
<circle cx="321.6" cy="427.0" r="1.3" fill="#ff0000"/>
<circle cx="321.6" cy="436.6" r="1.3" fill="#ff0000"/>
<circle cx="326.4" cy="450.0" r="1.3" fill="#ff0000"/>
<circle cx="331.2" cy="437.4" r="1.3" fill="#ff0000"/>
<circle cx="331.2" cy="444.4" r="1.3" fill="#ff0000"/>
<circle cx="336.2" cy="399.2" r="1.3" fill="#ff0000"/>
<circle cx="341.0" cy="397.8" r="1.3" fill="#ff0000"/>
<circle cx="341.0" cy="427.2" r="1.3" fill="#ff0000"/>
<circle cx="345.8" cy="446.8" r="1.3" fill="#ff0000"/>
<circle cx="350.6" cy="455.8" r="1.3" fill="#ff0000"/>
<circle cx="350.6" cy="461.4" r="1.3" fill="#ff0000"/>
<circle cx="355.4" cy="463.4" r="1.3" fill="#ff0000"/>
<circle cx="360.2" cy="418.8" r="1.3" fill="#ff0000"/>
<circle cx="360.2" cy="456.6" r="1.3" fill="#ff0000"/>
<circle cx="365.0" cy="417.8" r="1.3" fill="#ff0000"/>
<circle cx="369.8" cy="431.6" r="1.3" fill="#ff0000"/>
<circle cx="369.8" cy="448.0" r="1.3" fill="#ff0000"/>
<circle cx="374.6" cy="436.2" r="1.3" fill="#ff0000"/>
<circle cx="379.4" cy="428.6" r="1.3" fill="#ff0000"/>
<circle cx="379.4" cy="431.6" r="1.3" fill="#ff0000"/>
<circle cx="384.2" cy="420.4" r="1.3" fill="#ff0000"/>
<circle cx="389.0" cy="409.6" r="1.3" fill="#ff0000"/>
<circle cx="389.0" cy="461.6" r="1.3" fill="#ff0000"/>
<circle cx="393.8" cy="452.6" r="1.3" fill="#ff0000"/>
<circle cx="393.8" cy="456.6" r="1.3" fill="#ff0000"/>
<circle cx="398.6" cy="452.8" r="1.3" fill="#ff0000"/>
<circle cx="398.6" cy="466.0" r="1.3" fill="#ff0000"/>
<circle cx="403.4" cy="446.2" r="1.3" fill="#ff0000"/>
<circle cx="403.4" cy="471.0" r="1.3" fill="#ff0000"/>
<circle cx="408.2" cy="467.2" r="1.3" fill="#ff0000"/>
<circle cx="408.2" cy="469.8" r="1.3" fill="#ff0000"/>
<circle cx="413.0" cy="450.2" r="1.3" fill="#ff0000"/>
<circle cx="413.0" cy="471.8" r="1.3" fill="#ff0000"/>
<circle cx="417.8" cy="442.0" r="1.3" fill="#ff0000"/>
<circle cx="417.8" cy="471.2" r="1.3" fill="#ff0000"/>
<circle cx="422.6" cy="466.0" r="1.3" fill="#ff0000"/>
<circle cx="422.6" cy="473.8" r="1.3" fill="#ff0000"/>
<circle cx="427.4" cy="446.8" r="1.3" fill="#ff0000"/>
<circle cx="427.4" cy="465.2" r="1.3" fill="#ff0000"/>
<circle cx="432.2" cy="490.6" r="1.3" fill="#ff0000"/>
<circle cx="437.0" cy="464.0" r="1.3" fill="#ff0000"/>
<circle cx="437.0" cy="476.0" r="1.3" fill="#ff0000"/>
<circle cx="441.8" cy="444.2" r="1.3" fill="#ff0000"/>
<circle cx="446.6" cy="465.6" r="1.3" fill="#ff0000"/>
<circle cx="446.6" cy="475.2" r="1.3" fill="#ff0000"/>
<circle cx="451.4" cy="449.4" r="1.3" fill="#ff0000"/>
<circle cx="456.2" cy="477.4" r="1.3" fill="#ff0000"/>
<circle cx="456.2" cy="485.8" r="1.3" fill="#ff0000"/>
<circle cx="461.0" cy="468.6" r="1.3" fill="#ff0000"/>
<circle cx="465.8" cy="490.6" r="1.3" fill="#ff0000"/>
<circle cx="465.8" cy="496.6" r="1.3" fill="#ff0000"/>
<circle cx="470.6" cy="473.6" r="1.3" fill="#ff0000"/>
<circle cx="475.4" cy="485.6" r="1.3" fill="#ff0000"/>
<circle cx="480.2" cy="465.6" r="1.3" fill="#ff0000"/>
<circle cx="485.0" cy="465.2" r="1.3" fill="#ff0000"/>
<circle cx="485.0" cy="470.6" r="1.3" fill="#ff0000"/>
<circle cx="489.8" cy="447.6" r="1.3" fill="#ff0000"/>
<circle cx="494.6" cy="456.2" r="1.3" fill="#ff0000"/>
<circle cx="504.2" cy="467.2" r="1.3" fill="#ff0000"/>
<circle cx="504.2" cy="472.8" r="1.3" fill="#ff0000"/>
<circle cx="513.8" cy="485.2" r="1.3" fill="#ff0000"/>
<circle cx="518.6" cy="484.0" r="1.3" fill="#ff0000"/>
<circle cx="523.4" cy="484.8" r="1.3" fill="#ff0000"/>
<circle cx="523.4" cy="504.6" r="1.3" fill="#ff0000"/>
<circle cx="528.2" cy="509.0" r="1.3" fill="#ff0000"/>
<circle cx="533.0" cy="477.2" r="1.3" fill="#ff0000"/>
<circle cx="537.8" cy="455.0" r="1.3" fill="#ff0000"/>
<circle cx="542.6" cy="491.2" r="1.3" fill="#ff0000"/>
<circle cx="542.6" cy="512.8" r="1.3" fill="#ff0000"/>
<circle cx="547.4" cy="471.2" r="1.3" fill="#ff0000"/>
<circle cx="552.2" cy="464.6" r="1.3" fill="#ff0000"/>
<circle cx="552.2" cy="509.0" r="1.3" fill="#ff0000"/>
<circle cx="566.6" cy="504.2" r="1.3" fill="#ff0000"/>
<circle cx="571.4" cy="454.8" r="1.3" fill="#ff0000"/>
<circle cx="576.2" cy="509.6" r="1.3" fill="#ff0000"/>
<circle cx="581.0" cy="512.0" r="1.3" fill="#ff0000"/>
<circle cx="585.8" cy="506.0" r="1.3" fill="#ff0000"/>
<circle cx="590.6" cy="484.2" r="1.3" fill="#ff0000"/>
<circle cx="595.4" cy="473.4" r="1.3" fill="#ff0000"/>
<circle cx="600.2" cy="478.8" r="1.3" fill="#ff0000"/>
<circle cx="600.2" cy="505.6" r="1.3" fill="#ff0000"/>
<circle cx="614.6" cy="500.6" r="1.3" fill="#ff0000"/>
<circle cx="633.8" cy="512.6" r="1.3" fill="#ff0000"/>
<circle cx="494.4" cy="516.0" r="1.3" fill="#ff0000"/>
<circle cx="499.4" cy="519.4" r="1.3" fill="#ff0000"/>
<circle cx="509.0" cy="529.0" r="1.3" fill="#ff0000"/>
<circle cx="513.8" cy="515.2" r="1.3" fill="#ff0000"/>
<circle cx="533.0" cy="516.6" r="1.3" fill="#ff0000"/>
<circle cx="557.0" cy="514.6" r="1.3" fill="#ff0000"/>
<circle cx="561.8" cy="530.0" r="1.3" fill="#ff0000"/>
<circle cx="561.8" cy="532.4" r="1.3" fill="#ff0000"/>
<circle cx="571.4" cy="529.8" r="1.3" fill="#ff0000"/>
<circle cx="581.0" cy="514.6" r="1.3" fill="#ff0000"/>
<circle cx="590.6" cy="528.4" r="1.3" fill="#ff0000"/>
<circle cx="605.0" cy="516.0" r="1.3" fill="#ff0000"/>
<circle cx="609.8" cy="523.6" r="1.3" fill="#ff0000"/>
<circle cx="609.8" cy="530.0" r="1.3" fill="#ff0000"/>
<circle cx="619.4" cy="539.0" r="1.3" fill="#ff0000"/>
<circle cx="619.4" cy="540.2" r="1.3" fill="#ff0000"/>
<circle cx="624.2" cy="537.8" r="1.3" fill="#ff0000"/>
<circle cx="629.0" cy="542.2" r="1.3" fill="#ff0000"/>
<circle cx="629.0" cy="551.8" r="1.3" fill="#ff0000"/>
<circle cx="638.6" cy="516.6" r="1.3" fill="#ff0000"/>
<circle cx="638.6" cy="524.6" r="1.3" fill="#ff0000"/>
<circle cx="643.4" cy="557.6" r="1.3" fill="#ff0000"/>
<circle cx="648.2" cy="521.0" r="1.3" fill="#ff0000"/>
<circle cx="648.2" cy="538.2" r="1.3" fill="#ff0000"/>
<circle cx="653.0" cy="520.8" r="1.3" fill="#ff0000"/>
<circle cx="653.0" cy="527.0" r="1.3" fill="#ff0000"/>
<circle cx="657.8" cy="520.8" r="1.3" fill="#ff0000"/>
<circle cx="662.6" cy="538.2" r="1.3" fill="#ff0000"/>
<circle cx="662.6" cy="545.8" r="1.3" fill="#ff0000"/>
<circle cx="667.4" cy="534.6" r="1.3" fill="#ff0000"/>
<circle cx="667.4" cy="565.4" r="1.3" fill="#ff0000"/>
<circle cx="672.2" cy="548.6" r="1.3" fill="#ff0000"/>
<circle cx="672.2" cy="575.6" r="1.3" fill="#ff0000"/>
<circle cx="677.0" cy="541.0" r="1.3" fill="#ff0000"/>
<circle cx="677.0" cy="546.0" r="1.3" fill="#ff0000"/>
<circle cx="681.8" cy="531.6" r="1.3" fill="#ff0000"/>
<circle cx="681.8" cy="586.6" r="1.3" fill="#ff0000"/>
<circle cx="686.6" cy="529.8" r="1.3" fill="#ff0000"/>
<circle cx="686.6" cy="567.2" r="1.3" fill="#ff0000"/>
<circle cx="691.6" cy="540.8" r="1.3" fill="#ff0000"/>
<circle cx="691.6" cy="559.8" r="1.3" fill="#ff0000"/>
<circle cx="696.4" cy="538.8" r="1.3" fill="#ff0000"/>
<circle cx="696.4" cy="557.0" r="1.3" fill="#ff0000"/>
<circle cx="701.2" cy="550.0" r="1.3" fill="#ff0000"/>
<circle cx="701.2" cy="552.4" r="1.3" fill="#ff0000"/>
<circle cx="706.0" cy="525.6" r="1.3" fill="#ff0000"/>
<circle cx="706.0" cy="536.6" r="1.3" fill="#ff0000"/>
<circle cx="710.8" cy="533.6" r="1.3" fill="#ff0000"/>
<circle cx="710.8" cy="538.8" r="1.3" fill="#ff0000"/>
<circle cx="715.6" cy="526.0" r="1.3" fill="#ff0000"/>
<circle cx="715.6" cy="542.4" r="1.3" fill="#ff0000"/>
<circle cx="720.4" cy="563.6" r="1.3" fill="#ff0000"/>
<circle cx="720.4" cy="576.2" r="1.3" fill="#ff0000"/>
<circle cx="725.2" cy="529.0" r="1.3" fill="#ff0000"/>
<circle cx="725.2" cy="550.0" r="1.3" fill="#ff0000"/>
<circle cx="730.0" cy="564.0" r="1.3" fill="#ff0000"/>
<circle cx="730.0" cy="576.4" r="1.3" fill="#ff0000"/>
<circle cx="734.8" cy="535.6" r="1.3" fill="#ff0000"/>
<circle cx="734.8" cy="578.0" r="1.3" fill="#ff0000"/>
<circle cx="739.6" cy="540.0" r="1.3" fill="#ff0000"/>
<circle cx="739.6" cy="582.6" r="1.3" fill="#ff0000"/>
<circle cx="744.4" cy="551.0" r="1.3" fill="#ff0000"/>
<circle cx="744.4" cy="586.2" r="1.3" fill="#ff0000"/>
<circle cx="749.2" cy="543.0" r="1.3" fill="#ff0000"/>
<circle cx="749.2" cy="590.0" r="1.3" fill="#ff0000"/>
<circle cx="754.0" cy="541.6" r="1.3" fill="#ff0000"/>
<circle cx="754.0" cy="551.8" r="1.3" fill="#ff0000"/>
<circle cx="758.8" cy="553.4" r="1.3" fill="#ff0000"/>
<circle cx="758.8" cy="567.6" r="1.3" fill="#ff0000"/>
<circle cx="763.6" cy="526.0" r="1.3" fill="#ff0000"/>
<circle cx="763.6" cy="551.8" r="1.3" fill="#ff0000"/>
<circle cx="768.4" cy="548.0" r="1.3" fill="#ff0000"/>
<circle cx="768.4" cy="580.2" r="1.3" fill="#ff0000"/>
<circle cx="773.2" cy="527.4" r="1.3" fill="#ff0000"/>
<circle cx="773.2" cy="552.8" r="1.3" fill="#ff0000"/>
<circle cx="778.0" cy="557.4" r="1.3" fill="#ff0000"/>
<circle cx="778.0" cy="566.6" r="1.3" fill="#ff0000"/>
<circle cx="782.8" cy="549.0" r="1.3" fill="#ff0000"/>
<circle cx="782.8" cy="550.2" r="1.3" fill="#ff0000"/>
<circle cx="787.6" cy="562.4" r="1.3" fill="#ff0000"/>
<circle cx="787.6" cy="581.0" r="1.3" fill="#ff0000"/>
<circle cx="792.4" cy="525.6" r="1.3" fill="#ff0000"/>
<circle cx="792.4" cy="574.0" r="1.3" fill="#ff0000"/>
<circle cx="797.2" cy="543.4" r="1.3" fill="#ff0000"/>
<circle cx="797.2" cy="581.4" r="1.3" fill="#ff0000"/>
<circle cx="802.0" cy="565.4" r="1.3" fill="#ff0000"/>
<circle cx="806.8" cy="573.2" r="1.3" fill="#ff0000"/>
<circle cx="806.8" cy="579.2" r="1.3" fill="#ff0000"/>
<circle cx="811.6" cy="545.0" r="1.3" fill="#ff0000"/>
<circle cx="811.6" cy="582.8" r="1.3" fill="#ff0000"/>
<circle cx="816.4" cy="552.4" r="1.3" fill="#ff0000"/>
<circle cx="816.4" cy="612.4" r="1.3" fill="#ff0000"/>
<circle cx="821.2" cy="540.4" r="1.3" fill="#ff0000"/>
<circle cx="821.2" cy="546.8" r="1.3" fill="#ff0000"/>
<circle cx="826.0" cy="542.6" r="1.3" fill="#ff0000"/>
<circle cx="826.0" cy="570.0" r="1.3" fill="#ff0000"/>
<circle cx="830.8" cy="543.0" r="1.3" fill="#ff0000"/>
<circle cx="830.8" cy="565.0" r="1.3" fill="#ff0000"/>
<circle cx="830.8" cy="587.6" r="1.3" fill="#ff0000"/>
<rect x="834.1" y="48.1" width="3" height="2.6" fill="#00ff00"/>
<rect x="834.1" y="52.1" width="3" height="28" fill="#00ff00"/>
<circle cx="835.6" cy="242.1" r="1.5" fill="#ff00ff"/>
<rect x="834.1" y="245" width="3" height="27.1" rx="1.2" fill="#ff00ff"/>
<circle cx="835.6" cy="276.6" r="1.5" fill="#ff00ff"/>
<rect x="834.3" y="540.5" width="2.6" height="63" rx="1.2" fill="#ff0000"/>
<circle cx="835.6" cy="517.8" r="1.3" fill="#ff0000"/>
<circle cx="835.6" cy="519.8" r="1.3" fill="#ff0000"/>
<circle cx="835.6" cy="522" r="1.3" fill="#ff0000"/>
<circle cx="835.6" cy="524.5" r="1.3" fill="#ff0000"/>
<circle cx="835.6" cy="527" r="1.3" fill="#ff0000"/>
<circle cx="835.6" cy="529.5" r="1.3" fill="#ff0000"/>
<circle cx="835.6" cy="532" r="1.3" fill="#ff0000"/>
<circle cx="835.6" cy="534.5" r="1.3" fill="#ff0000"/>
<circle cx="835.6" cy="537" r="1.3" fill="#ff0000"/>
<circle cx="835.6" cy="539.5" r="1.3" fill="#ff0000"/>
<circle cx="835.6" cy="605" r="1.3" fill="#ff0000"/>
<circle cx="835.6" cy="607.5" r="1.3" fill="#ff0000"/>
<circle cx="835.6" cy="610" r="1.3" fill="#ff0000"/>
<circle cx="835.6" cy="612.5" r="1.3" fill="#ff0000"/>
<circle cx="835.6" cy="615" r="1.3" fill="#ff0000"/>
<circle cx="835.6" cy="617.5" r="1.3" fill="#ff0000"/>
<circle cx="835.6" cy="620" r="1.3" fill="#ff0000"/>
<circle cx="835.6" cy="622.5" r="1.3" fill="#ff0000"/>
<rect x="822.5" y="40.3" width="3" height="3" fill="#00ff00"/>
<circle cx="824" cy="61.1" r="1.5" fill="#ff00ff"/>
<circle cx="824" cy="391.8" r="1.1" fill="#ff0000"/>
</svg>
</body></html>
